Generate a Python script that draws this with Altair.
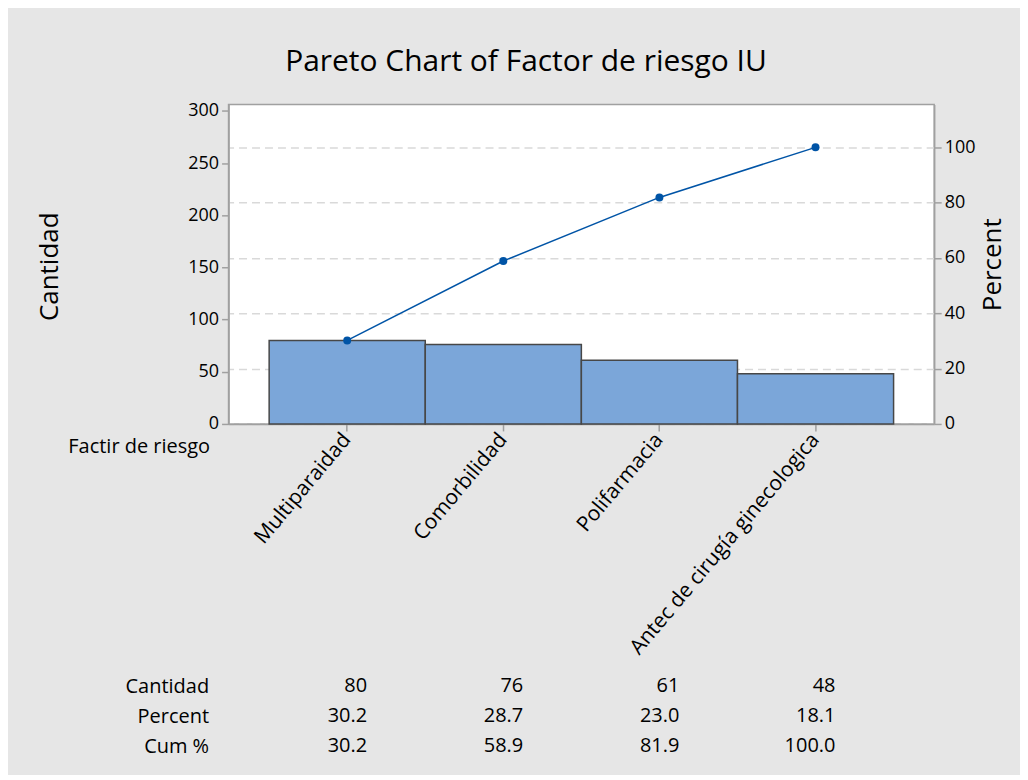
import altair as alt
import pandas as pd

# ---- data ----
categories = ["Multiparaidad", "Comorbilidad", "Polifarmacia", "Antec de cirugía ginecologica"]
cantidad = [80, 76, 61, 48]
percent = [30.2, 28.7, 23.0, 18.1]
cum_pct = [30.2, 58.9, 81.9, 100.0]
row_names = ["Cantidad", "Percent", "Cum %"]
left_ticks = [0, 50, 100, 150, 200, 250, 300]
right_ticks = [0, 20, 40, 60, 80, 100]

total = sum(cantidad)
left_max = 306
right_max = left_max / total * 100

FONT = "Open Sans"
GRAY = "#a0a0a0"

df = pd.DataFrame({"Factor": categories, "Cantidad": cantidad,
                   "Percent": percent, "Cum": cum_pct})

rows = []
for i, c in enumerate(categories):
    rows.append({"Factor": c, "Row": row_names[0], "Text": f"{cantidad[i]}"})
    rows.append({"Factor": c, "Row": row_names[1], "Text": f"{percent[i]:.1f}"})
    rows.append({"Factor": c, "Row": row_names[2], "Text": f"{cum_pct[i]:.1f}"})
tdf = pd.DataFrame(rows)

xscale = alt.Scale(type="band", domain=categories, paddingInner=0, paddingOuter=0.26)

base = alt.Chart(df).encode(
    x=alt.X("Factor:N", sort=categories, scale=xscale,
            axis=alt.Axis(title="Factir de riesgo", titleFont=FONT, titleFontSize=20,
                          titleFontWeight="normal", titleColor="black",
                          titleX=-19, titleY=23, titleAlign="right", titleBaseline="middle",
                          labelAngle=310, labelAlign="right", labelBaseline="middle",
                          labelFont=FONT, labelFontSize=21, labelColor="black",
                          labelPadding=5, labelOverlap=False, labelLimit=500,
                          domainColor=GRAY, domainWidth=1.5, tickColor=GRAY,
                          tickWidth=1.5, tickSize=7, bandPosition=0.5, grid=False))
)

bars = base.mark_bar(fill="#7BA6D9", stroke="#474747", strokeWidth=1.5).encode(
    y=alt.Y("Cantidad:Q", scale=alt.Scale(domain=[0, left_max], nice=False),
            axis=alt.Axis(values=left_ticks, title="Cantidad", titleFont=FONT,
                          titleFontSize=26, titleFontWeight="normal", titleColor="black",
                          titleAngle=270, titleX=-179, titleY=162, titleAlign="center",
                          titleBaseline="middle",
                          labelFont=FONT, labelFontSize=18, labelColor="black",
                          labelPadding=3, domainColor=GRAY, domainWidth=1.5,
                          tickColor=GRAY, tickWidth=1.5, tickSize=7, grid=False))
)

line = base.mark_line(color="#0054A6", strokeWidth=1.5,
                      point=alt.OverlayMarkDef(filled=True, color="#0054A6", size=64)).encode(
    y=alt.Y("Cum:Q", scale=alt.Scale(domain=[0, right_max], nice=False),
            axis=alt.Axis(orient="right", values=right_ticks, title="Percent", titleFont=FONT,
                          titleFontSize=26, titleFontWeight="normal", titleColor="black",
                          titleAngle=270, titleX=58, titleY=160, titleAlign="center",
                          titleBaseline="middle",
                          labelFont=FONT, labelFontSize=18, labelColor="black",
                          labelPadding=3, domainColor=GRAY, domainWidth=1.5,
                          tickColor=GRAY, tickWidth=1.5, tickSize=7,
                          grid=True, gridDash=[8, 5], gridColor="#d9d9d9", gridWidth=1.5))
)

top = alt.layer(bars, line).resolve_scale(y="independent").properties(
    width=707, height=320,
    view=alt.ViewBackground(fill="white", stroke=GRAY, strokeWidth=1.5))

table = alt.Chart(tdf).mark_text(align="right", dx=20, fontSize=20, font=FONT,
                                 color="black").encode(
    x=alt.X("Factor:N", sort=categories, scale=xscale, axis=None, bandPosition=0.5),
    y=alt.Y("Row:N", sort=row_names,
            axis=alt.Axis(title=None, domain=False, ticks=False, labelFont=FONT,
                          labelFontSize=20, labelColor="black", labelPadding=20)),
    text="Text:N",
).properties(width=707, height=90,
             view=alt.ViewBackground(fill="transparent", stroke="transparent"))

chart = alt.vconcat(top, table, spacing=11).resolve_scale(
    x="independent", y="independent"
).properties(
    title=alt.TitleParams("Pareto Chart of Factor de riesgo IU", font=FONT, fontSize=30,
                          fontWeight="normal", color="black", anchor="middle", offset=24,
                          dx=5),
    background="#e6e6e6",
    padding={"left": 28, "top": 38, "right": 14, "bottom": 12},
)

chart.save("out.html", embed_options={"renderer": "svg", "actions": False})
